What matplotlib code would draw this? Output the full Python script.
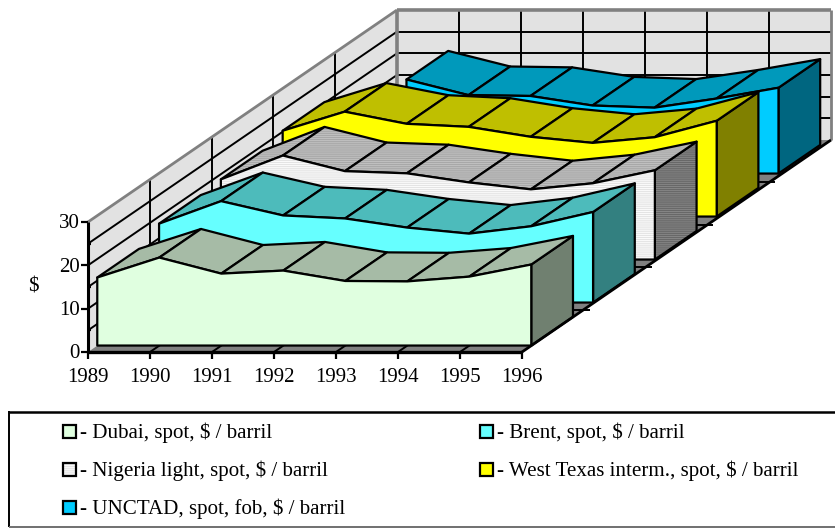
#!/usr/bin/env python3

import numpy as np
import matplotlib
matplotlib.use("Agg")
import matplotlib.pyplot as plt
from matplotlib.patches import Polygon, Rectangle

plt.rcParams.update({
    "font.family": ["Liberation Serif", "DejaVu Serif"],
    "hatch.linewidth": 0.6,
})

years = [1989, 1990, 1991, 1992, 1993, 1994, 1995, 1996]
y_ticks = [0, 10, 20, 30]

dubai = [15.7, 20.3, 16.6, 17.3, 14.9, 14.8, 15.9, 18.7]
brent = [18.2, 23.4, 20.1, 19.4, 17.3, 15.9, 17.6, 20.9]
nigeria = [18.5, 24.0, 20.4, 19.9, 17.8, 16.2, 17.6, 20.6]
wti = [19.8, 24.2, 21.4, 20.7, 18.4, 17.0, 18.3, 22.1]
unctad = [np.nan, 21.7, 18.1, 17.9, 15.7, 15.2, 17.3, 19.8]

series_values = [dubai, brent, nigeria, wti, unctad]
legend_labels = [
    "- Dubai, spot, $ / barril",
    "- Brent, spot, $ / barril",
    "- Nigeria light, spot, $ / barril",
    "- West Texas interm., spot, $ / barril",
    "- UNCTAD, spot, fob, $ / barril",
]

# front, top, side colours + hatch colour for the striped one
styles = [
    dict(front="#E0FFE0", top="#A6BBA6", side="#708070"),
    dict(front="#66FFFF", top="#4DBBBB", side="#338080"),
    dict(front="#E4E4E4", top="#A8A8A8", side="#686868", hatch="#FFFFFF"),
    dict(front="#FFFF00", top="#BFBF00", side="#808000"),
    dict(front="#00CCFF", top="#0099BB", side="#006680"),
]

# oblique projection, in pixels of the 835x529 picture
X0, Y0 = 88, 352
STEP_X = 62
UNIT_Y = 130 / 30
DEPTH_X, DEPTH_Y = 309, -212
Y_MAX = 30
FRONT = [0.03 + 0.2 * i for i in range(5)]
THICK = 0.135
SERIES_LIFT = 3  # series sit slightly above the floor plane further back

GRID_LW = 1.4
EDGE_LW = 1.6
FONT = 15
LEGEND_FONT = 15.1


def proj(x, value, depth, lift=0):
    return (X0 + STEP_X * x + DEPTH_X * depth, Y0 - UNIT_Y * value + DEPTH_Y * depth - lift)


def poly(ax, pts, color, hatch=None, hatch_color=None, lw=EDGE_LW, edge="black"):
    if hatch:
        ax.add_patch(Polygon(pts, closed=True, facecolor=color, edgecolor=hatch_color,
                             hatch=hatch, linewidth=0))
        ax.add_patch(Polygon(pts, closed=True, facecolor="none", edgecolor=edge, linewidth=lw,
                             joinstyle="round"))
    else:
        ax.add_patch(Polygon(pts, closed=True, facecolor=color, edgecolor=edge, linewidth=lw,
                             joinstyle="round"))


def line(ax, a, b, color="black", lw=GRID_LW):
    # zorder 1 so lines and patches paint in the order they are added
    ax.plot([a[0], b[0]], [a[1], b[1]], color=color, linewidth=lw,
            solid_capstyle="butt", zorder=1)


def draw_walls(ax):
    n = len(years) - 1
    wall = "#E2E2E2"
    ax.add_patch(Polygon([proj(0, 0, 0), proj(0, Y_MAX, 0), proj(0, Y_MAX, 1), proj(0, 0, 1)],
                         facecolor=wall, edgecolor="none"))
    ax.add_patch(Polygon([proj(0, 0, 1), proj(0, Y_MAX, 1), proj(n, Y_MAX, 1), proj(n, 0, 1)],
                         facecolor=wall, edgecolor="none"))
    ax.add_patch(Polygon([proj(0, 0, 0), proj(n, 0, 0), proj(n, 0, 1), proj(0, 0, 1)],
                         facecolor="#808080", edgecolor="none"))

    for v in range(5, Y_MAX, 5):
        line(ax, proj(0, v, 0), proj(0, v, 1))
        line(ax, proj(0, v, 1), proj(n, v, 1))
    for d in [0.2, 0.4, 0.6, 0.8]:
        line(ax, proj(0, 0, d), proj(0, Y_MAX, d))
        line(ax, proj(0, 0, d), proj(n, 0, d))
        # little tick past the floor edge
        p = proj(n, 0, d)
        line(ax, p, (p[0] + 6, p[1]))
    for j in range(1, n):
        line(ax, proj(j, 0, 1), proj(j, Y_MAX, 1))
        line(ax, proj(j, 0, 0), proj(j, 0, 1))

    gray = "#808080"
    line(ax, proj(0, Y_MAX, 0), proj(0, Y_MAX, 1), gray, 2.0)
    line(ax, proj(0, Y_MAX, 1), proj(n, Y_MAX, 1), gray, 2.6)
    line(ax, proj(0, 0, 1), proj(0, Y_MAX, 1), gray, 2.6)
    line(ax, proj(n, 0, 1), proj(n, Y_MAX, 1), gray, 2.0)


def draw_series(ax, values, front, style):
    back = front + THICK
    lift = SERIES_LIFT * front
    hatch = "--------" if "hatch" in style else None
    hc = style.get("hatch")
    idx = [j for j, v in enumerate(values) if not np.isnan(v)]
    last = idx[-1]

    side = [proj(last, values[last], front, lift), proj(last, values[last], back, lift),
            proj(last, 0, back, lift), proj(last, 0, front, lift)]
    poly(ax, side, style["side"], hatch, "#8A8A8A" if hatch else None)

    for a, b in zip(idx[:-1], idx[1:]):
        quad = [proj(a, values[a], front, lift), proj(b, values[b], front, lift),
                proj(b, values[b], back, lift), proj(a, values[a], back, lift)]
        poly(ax, quad, style["top"], hatch, "#C4C4C4" if hatch else None)

    outline = [proj(j, values[j], front, lift) for j in idx]
    outline += [proj(last, 0, front, lift), proj(idx[0], 0, front, lift)]
    poly(ax, outline, style["front"], hatch, hc)


def draw_axes(ax):
    n = len(years) - 1
    line(ax, proj(0, 0, 0), proj(n, 0, 0), lw=2.4)
    line(ax, proj(0, 0, 0), proj(0, Y_MAX, 0), lw=2.2)
    line(ax, proj(n, 0, 0), proj(n, 0, 1), lw=2.0)

    for j, year in enumerate(years):
        x, y = proj(j, 0, 0)
        line(ax, (x, y), (x, y + 7), lw=1.6)
        ax.text(x, y + 25, str(year), ha="center", va="center", fontsize=FONT)
    for v in y_ticks:
        x, y = proj(0, v, 0)
        line(ax, (x - 7, y), (x, y), lw=1.6)
        ax.text(x - 8, y + 2, str(v), ha="right", va="center", fontsize=FONT)
    for v in range(5, Y_MAX, 10):
        x, y = proj(0, v, 0)
        line(ax, (x, y), (x + 3, y), lw=1.6)
    ax.text(33, 287, "$", ha="center", va="center", fontsize=FONT)


def draw_legend(ax):
    ax.add_patch(Rectangle((9, 412), 840, 115, facecolor="white", edgecolor="none"))
    line(ax, (9, 412), (835, 412), lw=1.8)
    line(ax, (9, 411), (9, 527), lw=1.4)
    line(ax, (9, 527), (835, 527), "#707070", 1.4)

    cols = [63, 480]
    rows = [431, 469, 507]
    spots = [(0, 0), (1, 0), (0, 1), (1, 1), (0, 2)]
    for label, style, (c, r) in zip(legend_labels, styles, spots):
        x, y = cols[c], rows[r]
        hatch = "--------" if "hatch" in style else None
        ax.add_patch(Rectangle((x, y - 6.5), 13, 13, facecolor=style["front"],
                               edgecolor=style.get("hatch", "black"), hatch=hatch, linewidth=0))
        ax.add_patch(Rectangle((x, y - 6.5), 13, 13, facecolor="none",
                               edgecolor="black", linewidth=1.6))
        ax.text(x + 17, y + 1.5, label, ha="left", va="center", fontsize=LEGEND_FONT)


def main():
    fig = plt.figure(figsize=(8.35, 5.29), dpi=100)
    ax = fig.add_axes([0, 0, 1, 1])
    ax.set_xlim(0, 835)
    ax.set_ylim(529, 0)
    ax.axis("off")

    draw_walls(ax)
    for values, front, style in reversed(list(zip(series_values, FRONT, styles))):
        draw_series(ax, values, front, style)
    draw_axes(ax)
    draw_legend(ax)

    fig.savefig("out.png", dpi=100)


if __name__ == "__main__":
    main()
